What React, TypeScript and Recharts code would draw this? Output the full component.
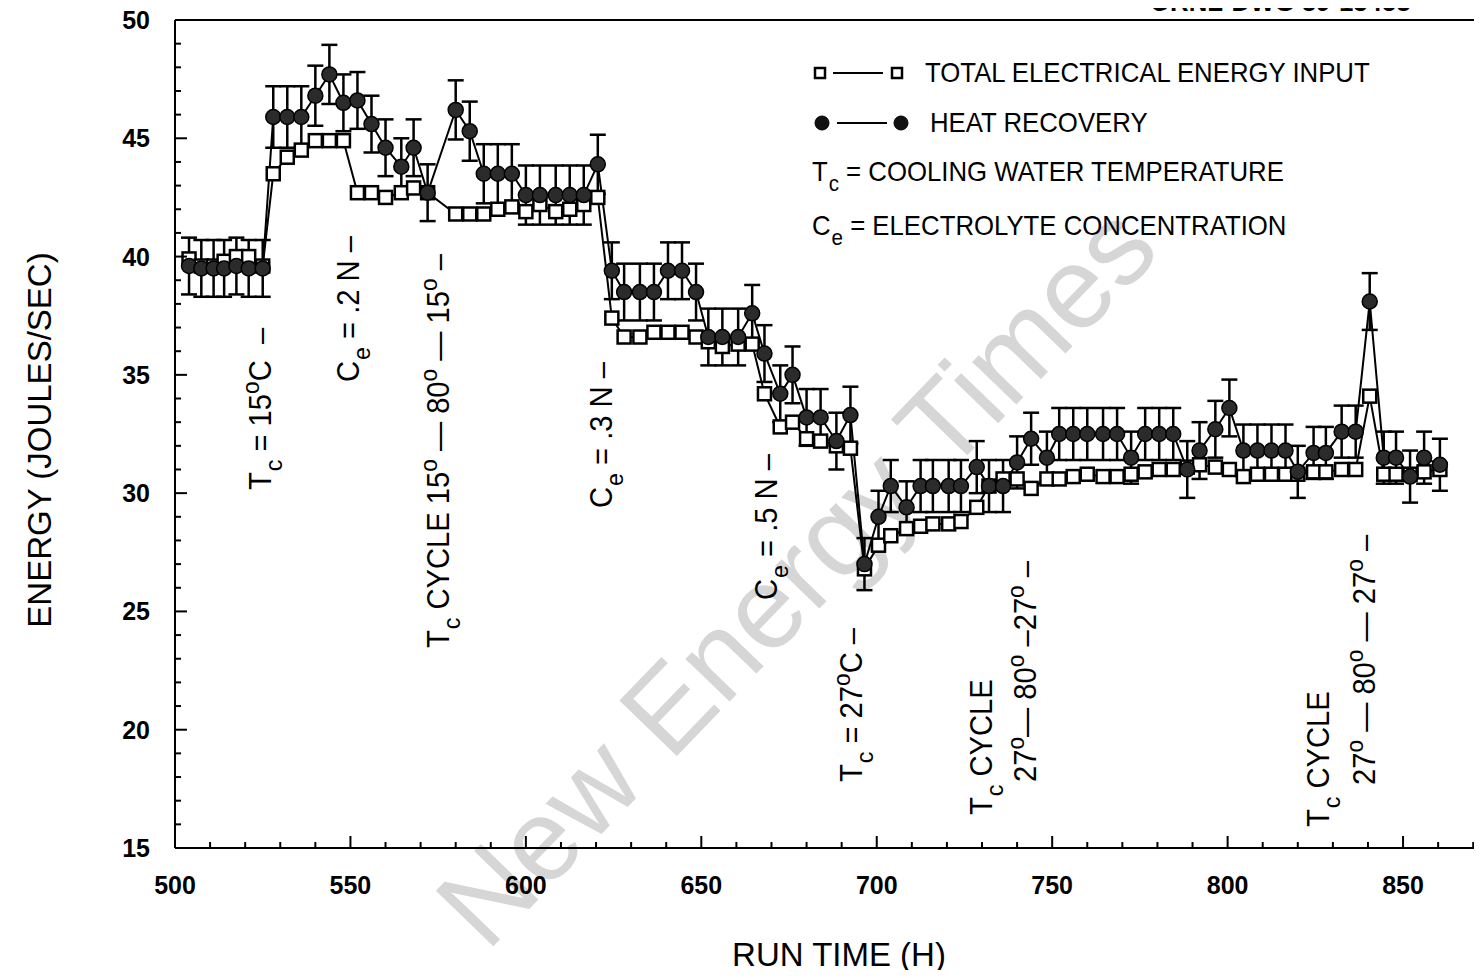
import React from "react";
import {
  ComposedChart,
  Line,
  XAxis,
  YAxis,
  ErrorBar,
  ReferenceLine,
} from "recharts";

// run time (h) for each reading
const hours = [
  504, 507.5, 511, 514, 517.5, 521, 525, 528, 532, 536, 540, 544, 548, 552, 556,
  560, 564.5, 568, 572, 580, 584, 588, 592, 596, 600, 604, 608.5, 612.5, 616.5,
  620.5, 624.5, 628, 632.5, 636.5, 640.5, 644.5, 648.5, 652, 656, 660.5, 664.5,
  668, 672.5, 676, 680, 684, 688.5, 692.5, 696.5, 700.5, 704, 708.5, 712.5, 716,
  720.5, 724, 728.5, 732, 736, 740, 744, 748.5, 752, 756, 760, 764.5, 768.5,
  772.5, 776.5, 780.5, 784.5, 788.5, 792, 796.5, 800.5, 804.5, 808.5, 812.5,
  816.5, 820, 824.5, 828, 832.5, 836.5, 840.5, 844.5, 848, 852, 856, 860.5,
];

// total electrical energy input (J/s)
const energyInput = [
  39.9, 39.6, 39.6, 39.8, 40.0, 40.0, 39.6, 43.5, 44.2, 44.5, 44.9, 44.9, 44.9,
  42.7, 42.7, 42.5, 42.7, 42.9, 42.7, 41.8, 41.8, 41.8, 42.0, 42.1, 41.9, 42.2,
  41.9, 42.0, 42.2, 42.5, 37.4, 36.6, 36.6, 36.8, 36.8, 36.8, 36.6, 36.4, 36.2,
  36.3, 36.3, 34.2, 32.8, 33.0, 32.3, 32.2, 32.0, 31.9, 26.8, 27.8, 28.2, 28.5,
  28.6, 28.7, 28.7, 28.8, 29.4, 30.3, 30.6, 30.6, 30.2, 30.6, 30.6, 30.7, 30.8,
  30.7, 30.7, 30.8, 30.9, 31.0, 31.0, 31.1, 31.2, 31.1, 31.0, 30.7, 30.8, 30.8,
  30.8, 30.8, 30.9, 30.9, 31.0, 31.0, 34.1, 30.8, 30.8, 30.8, 30.9, 31.0,
];

// heat recovery (J/s)
const heatRecovery = [
  39.6, 39.5, 39.5, 39.5, 39.6, 39.5, 39.5, 45.9, 45.9, 45.9, 46.8, 47.7, 46.5,
  46.6, 45.6, 44.6, 43.8, 44.6, 42.7, 46.2, 45.3, 43.5, 43.5, 43.5, 42.6, 42.6,
  42.6, 42.6, 42.6, 43.9, 39.4, 38.5, 38.5, 38.5, 39.4, 39.4, 38.5, 36.6, 36.6,
  36.6, 37.6, 35.9, 34.2, 35.0, 33.2, 33.2, 32.2, 33.3, 27.0, 29.0, 30.3, 29.4,
  30.3, 30.3, 30.3, 30.3, 31.1, 30.3, 30.3, 31.3, 32.3, 31.5, 32.5, 32.5, 32.5,
  32.5, 32.5, 31.5, 32.5, 32.5, 32.5, 31.0, 31.8, 32.7, 33.6, 31.8, 31.8, 31.8,
  31.8, 30.9, 31.7, 31.7, 32.6, 32.6, 38.1, 31.5, 31.5, 30.7, 31.5, 31.2,
];

// +/- uncertainty on heat recovery
const heatError = [
  1.2, 1.2, 1.2, 1.2, 1.2, 1.2, 1.2, 1.3, 1.3, 1.3, 1.27, 1.25, 1.2, 1.2, 1.2,
  1.2, 1.2, 1.2, 1.2, 1.25, 1.25, 1.25, 1.25, 1.25, 1.25, 1.25, 1.25, 1.25,
  1.25, 1.25, 1.2, 1.2, 1.2, 1.2, 1.2, 1.2, 1.2, 1.2, 1.2, 1.2, 1.2, 1.2, 1.2,
  1.2, 1.2, 1.2, 1.2, 1.2, 1.1, 1.1, 1.1, 1.1, 1.1, 1.1, 1.1, 1.1, 1.1, 1.1,
  1.1, 1.1, 1.1, 1.1, 1.1, 1.1, 1.1, 1.1, 1.1, 1.1, 1.1, 1.1, 1.1, 1.2, 1.2,
  1.2, 1.2, 1.1, 1.1, 1.1, 1.1, 1.1, 1.1, 1.1, 1.1, 1.1, 1.2, 1.1, 1.1, 1.1,
  1.1, 1.1,
];

const xTicks = [
  500, 510, 520, 530, 540, 550, 560, 570, 580, 590, 600, 610, 620, 630, 640,
  650, 660, 670, 680, 690, 700, 710, 720, 730, 740, 750, 760, 770, 780, 790,
  800, 810, 820, 830, 840, 850, 860, 870,
];
const yTicks = [
  15, 16, 17, 18, 19, 20, 21, 22, 23, 24, 25, 26, 27, 28, 29, 30, 31, 32, 33,
  34, 35, 36, 37, 38, 39, 40, 41, 42, 43, 44, 45, 46, 47, 48, 49, 50,
];

const data = hours.map((h, i) => ({
  hour: h,
  input: energyInput[i],
  heat: heatRecovery[i],
  err: heatError[i],
}));

const FONT = "'Liberation Sans', Arial, Helvetica, sans-serif";

const XTick = ({ x, y, payload }: any) => {
  const v = payload.value;
  const major = v % 50 === 0;
  return (
    <g>
      <line x1={x} x2={x} y1={y} y2={y - (major ? 12 : 6)} stroke='#000' strokeWidth={2} />
      {major && (
        <text x={x} y={y + 46} textAnchor='middle' fontFamily={FONT} fontWeight='bold' fontSize={25} fill='#000'>
          {v}
        </text>
      )}
    </g>
  );
};

const YTick = ({ x, y, payload }: any) => {
  const v = payload.value;
  const major = v % 5 === 0;
  return (
    <g>
      <line x1={x} x2={x + (major ? 12 : 6)} y1={y} y2={y} stroke='#000' strokeWidth={2} />
      {major && (
        <text x={x - 25} y={y} dy='0.36em' textAnchor='end' fontFamily={FONT} fontWeight='bold' fontSize={25} fill='#000'>
          {v}
        </text>
      )}
    </g>
  );
};

const squareDot = (p: any) => (
  <rect key={`sq-${p.index}`} x={p.cx - 6.5} y={p.cy - 6.5} width={13} height={13} fill='#fff' stroke='#000' strokeWidth={2.5} />
);

const circleDot = (p: any) => (
  <circle key={`ci-${p.index}`} cx={p.cx} cy={p.cy} r={7.5} fill='#2b2b2b' stroke='#000' strokeWidth={1.5} />
);

const Sub = ({ children }: { children: React.ReactNode }) => (
  <span style={{ fontSize: "0.8em", position: "relative", top: "0.45em", marginLeft: 1 }}>{children}</span>
);
const Deg = () => <span style={{ fontSize: "0.78em", position: "relative", top: "-0.5em" }}>o</span>;

// vertical annotation, reads bottom-to-top from (x, bottom)
const VText = ({ x, bottom, children }: { x: number; bottom: number; children: React.ReactNode }) => (
  <div
    style={{
      position: "absolute",
      left: x,
      top: bottom,
      transform: "rotate(-90deg) translateY(-50%) scaleX(0.94)",
      transformOrigin: "0 0",
      whiteSpace: "pre",
      fontFamily: FONT,
      fontSize: 31,
      lineHeight: "32px",
      color: "#000",
    }}>
    {children}
  </div>
);

const legendText: React.CSSProperties = {
  position: "absolute",
  fontFamily: FONT,
  fontSize: 28,
  lineHeight: "30px",
  whiteSpace: "nowrap",
  color: "#000",
  transform: "scaleX(0.92)",
  transformOrigin: "0 50%",
};

export default function App() {
  return (
    <div
      style={{
        position: "relative",
        margin: -8,
        width: 1482,
        height: 978,
        overflow: "hidden",
        background: "#fff",
      }}>
      {/* watermark */}
      <div
        style={{
          position: "absolute",
          left: 796,
          top: 575,
          transform: "translate(-50%, -50%) rotate(-46deg)",
          fontFamily: FONT,
          fontSize: 116,
          color: "#d6d6d6",
          whiteSpace: "nowrap",
        }}>
        New Energy Times
      </div>

      <div style={{ position: "absolute", left: 0, top: 0 }}>
        <ComposedChart
          width={1482}
          height={978}
          data={data}
          margin={{ top: 20, right: 0, bottom: 70, left: 0 }}>
          <XAxis
            dataKey='hour'
            type='number'
            domain={[500, 872.5]}
            ticks={xTicks}
            interval={0}
            allowDataOverflow
            height={60}
            tickSize={0}
            tickMargin={0}
            tickLine={false}
            axisLine={{ stroke: "#000", strokeWidth: 2 }}
            tick={<XTick />}
          />
          <YAxis
            type='number'
            domain={[15, 50]}
            ticks={yTicks}
            interval={0}
            width={175}
            tickSize={0}
            tickMargin={0}
            tickLine={false}
            axisLine={{ stroke: "#000", strokeWidth: 2 }}
            tick={<YTick />}
          />
          <ReferenceLine y={50} stroke='#000' strokeWidth={2} />
          <Line
            dataKey='input'
            stroke='#000'
            strokeWidth={2}
            dot={squareDot}
            activeDot={false}
            isAnimationActive={false}
          />
          <Line
            dataKey='heat'
            stroke='#000'
            strokeWidth={2}
            dot={circleDot}
            activeDot={false}
            isAnimationActive={false}>
            <ErrorBar dataKey='err' direction='y' width={8} stroke='#000' strokeWidth={2.5} />
          </Line>
        </ComposedChart>
      </div>

      {/* header, cut off at the top of the scan */}
      <div style={{ ...legendText, left: 1150, top: -13, fontWeight: "bold" }}>
        ORNL-DWG 89-13458
      </div>

      {/* legend */}
      <svg style={{ position: "absolute", left: 805, top: 55 }} width={110} height={90}>
        <rect x={10} y={13} width={10} height={10} fill='#fff' stroke='#000' strokeWidth={2.5} />
        <line x1={28} x2={78} y1={18} y2={18} stroke='#000' strokeWidth={2} />
        <rect x={87} y={13} width={10} height={10} fill='#fff' stroke='#000' strokeWidth={2.5} />
        <circle cx={17} cy={68} r={7} fill='#111' stroke='#000' />
        <line x1={32} x2={82} y1={68} y2={68} stroke='#000' strokeWidth={2} />
        <circle cx={96} cy={68} r={7} fill='#111' stroke='#000' />
      </svg>
      <div style={{ ...legendText, left: 925, top: 58 }}>TOTAL ELECTRICAL ENERGY INPUT</div>
      <div style={{ ...legendText, left: 930, top: 108 }}>HEAT RECOVERY</div>
      <div style={{ ...legendText, left: 812, top: 157 }}>
        T<Sub>c</Sub> = COOLING WATER TEMPERATURE
      </div>
      <div style={{ ...legendText, left: 812, top: 211 }}>
        C<Sub>e</Sub> = ELECTROLYTE CONCENTRATION
      </div>

      {/* event annotations */}
      <VText x={262} bottom={490}>
        T<Sub>c</Sub> = 15<Deg />C  –
      </VText>
      <VText x={350} bottom={382}>
        C<Sub>e</Sub> = .2 N –
      </VText>
      <VText x={440} bottom={648}>
        T<Sub>c</Sub> CYCLE 15<Deg /> — 80<Deg /> — 15<Deg /> –
      </VText>
      <VText x={603} bottom={508}>
        C<Sub>e</Sub> = .3 N –
      </VText>
      <VText x={768} bottom={600}>
        C<Sub>e</Sub> = .5 N –
      </VText>
      <VText x={853} bottom={782}>
        T<Sub>c</Sub> = 27<Deg />C –
      </VText>
      <VText x={983} bottom={815}>
        T<Sub>c</Sub> CYCLE
      </VText>
      <VText x={1027} bottom={782}>
        27<Deg />— 80<Deg /> –27<Deg /> –
      </VText>
      <VText x={1320} bottom={827}>
        T<Sub>c</Sub> CYCLE
      </VText>
      <VText x={1366} bottom={785}>
        27<Deg /> — 80<Deg /> — 27<Deg /> –
      </VText>

      {/* axis titles */}
      <div
        style={{
          position: "absolute",
          left: 0,
          width: 1482,
          top: 937,
          textAlign: "center",
          fontFamily: FONT,
          fontSize: 33,
          lineHeight: "36px",
          paddingLeft: 196,
          boxSizing: "border-box",
        }}>
        RUN TIME (H)
      </div>
      <div
        style={{
          position: "absolute",
          fontFamily: FONT,
          fontSize: 33,
          lineHeight: "36px",
          whiteSpace: "nowrap",
          left: 40,
          top: 440,
          transform: "translate(-50%, -50%) rotate(-90deg)",
        }}>
        ENERGY (JOULES/SEC)
      </div>
    </div>
  );
}
